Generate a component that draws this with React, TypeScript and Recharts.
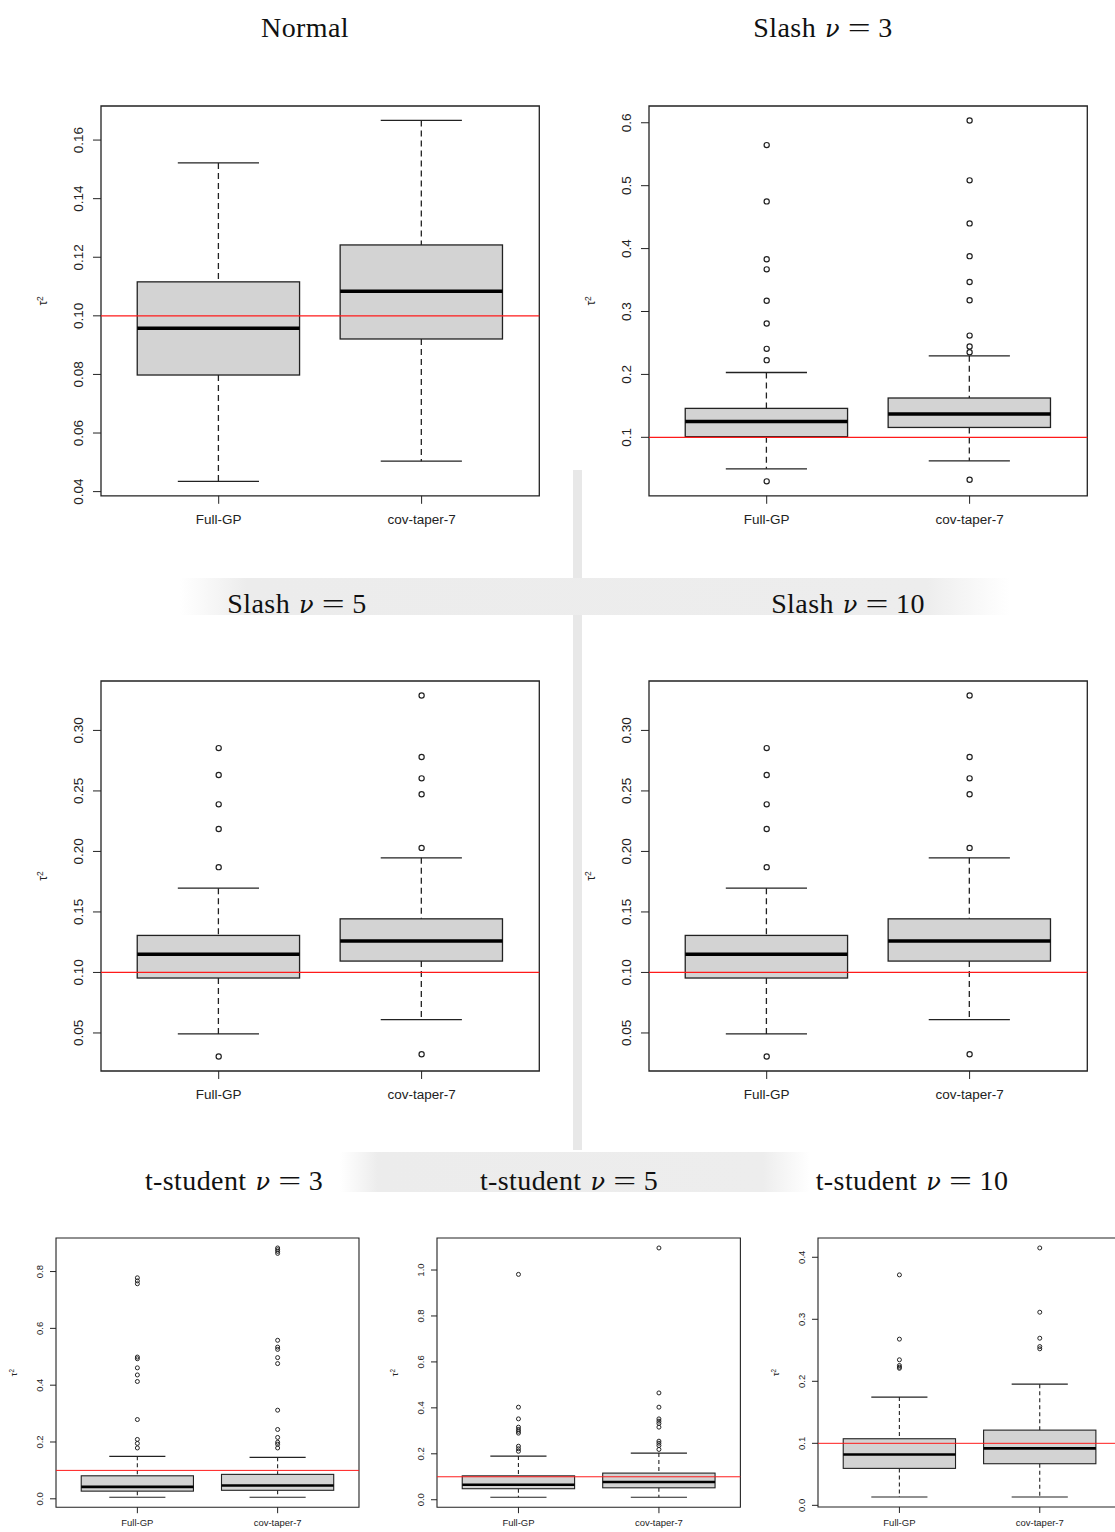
import { Bar, ComposedChart, ReferenceArea, ReferenceLine, Scatter, XAxis, YAxis } from 'recharts'

const GROUPS = ['Full-GP', 'cov-taper-7']

// per group: [lower whisker, Q1, median, Q3, upper whisker]
const NORMAL_BOX = [
  [0.0435, 0.0798, 0.0958, 0.1116, 0.1522],
  [0.0504, 0.0921, 0.1084, 0.1242, 0.1667],
]
const NORMAL_OUT: number[][] = [[], []]
const NORMAL_TICKS = [0.04, 0.06, 0.08, 0.1, 0.12, 0.14, 0.16]

const SLASH3_BOX = [
  [0.05, 0.101, 0.125, 0.146, 0.203],
  [0.0626, 0.1157, 0.137, 0.1625, 0.2295],
]
const SLASH3_OUT = [
  [0.5645, 0.475, 0.383, 0.367, 0.317, 0.281, 0.2406, 0.2227, 0.03],
  [0.6037, 0.5085, 0.44, 0.388, 0.347, 0.318, 0.2617, 0.2443, 0.2354, 0.0325],
]
const SLASH3_TICKS = [0.1, 0.2, 0.3, 0.4, 0.5, 0.6]

const SLASH5_BOX = [
  [0.0492, 0.0954, 0.115, 0.1306, 0.1696],
  [0.061, 0.1094, 0.1259, 0.1443, 0.1947],
]
const SLASH5_OUT = [
  [0.2854, 0.2631, 0.2389, 0.2186, 0.187, 0.0305],
  [0.3289, 0.278, 0.2604, 0.2472, 0.2029, 0.0324],
]
const SLASH5_TICKS = [0.05, 0.1, 0.15, 0.2, 0.25, 0.3]

const SLASH10_BOX = [
  [0.0492, 0.0954, 0.115, 0.1306, 0.1696],
  [0.061, 0.1094, 0.1259, 0.1443, 0.1947],
]
const SLASH10_OUT = [
  [0.2854, 0.2631, 0.2389, 0.2186, 0.187, 0.0305],
  [0.3289, 0.278, 0.2604, 0.2472, 0.2029, 0.0324],
]
const SLASH10_TICKS = [0.05, 0.1, 0.15, 0.2, 0.25, 0.3]

const T3_BOX = [
  [0.0056, 0.027, 0.042, 0.081, 0.1495],
  [0.0056, 0.03, 0.0467, 0.086, 0.146],
]
const T3_OUT = [
  [0.778, 0.767, 0.757, 0.499, 0.493, 0.461, 0.436, 0.413, 0.279, 0.209, 0.195, 0.179],
  [0.883, 0.877, 0.871, 0.864, 0.558, 0.534, 0.526, 0.497, 0.476, 0.312, 0.244, 0.216, 0.199, 0.192, 0.179],
]
const T3_TICKS = [0, 0.2, 0.4, 0.6, 0.8]

const T5_BOX = [
  [0.011, 0.048, 0.065, 0.104, 0.19],
  [0.011, 0.052, 0.077, 0.116, 0.203],
]
const T5_OUT = [
  [0.981, 0.403, 0.352, 0.316, 0.306, 0.298, 0.29, 0.233, 0.222, 0.211],
  [1.096, 0.465, 0.403, 0.352, 0.342, 0.332, 0.316, 0.255, 0.246, 0.236, 0.219],
]
const T5_TICKS = [0, 0.2, 0.4, 0.6, 0.8, 1.0]

const T10_BOX = [
  [0.0134, 0.0596, 0.0821, 0.1074, 0.1745],
  [0.0134, 0.0671, 0.0918, 0.1213, 0.1954],
]
const T10_OUT = [
  [0.3716, 0.268, 0.2347, 0.2255, 0.2228, 0.221],
  [0.415, 0.3114, 0.2695, 0.256, 0.2524],
]
const T10_TICKS = [0, 0.1, 0.2, 0.3, 0.4]

const TRUE_VALUE = 0.1
const X_DOMAIN = [0.42, 2.58]

const SANS = '"Liberation Sans", Arial, sans-serif'
const SERIF = '"Liberation Serif", "Times New Roman", serif'
const INK = '#222'

const LARGE = { axisW: 70, axisH: 40, font: 13.5, tick: 8, yMargin: 15, xMargin: 10.5, labOff: 58, labFont: 12, r: 2.6, sw: 1.2, median: 3.5, dash: '6 4', line: 1.3 }
const SMALL = { axisW: 52, axisH: 26, font: 9.5, tick: 6, yMargin: 10, xMargin: 6.5, labOff: 42, labFont: 9, r: 2, sw: 1, median: 2.6, dash: '4 3', line: 1.1 }
type Sizes = typeof LARGE

function BoxShape(props: any) {
  const { x, y, width, height, payload, s } = props as { x: number; y: number; width: number; height: number; payload: any; s: Sizes }
  const { lo, q1, med, q3, hi } = payload
  const top = Math.min(y, y + height)
  const h = Math.abs(height)
  const py = (v: number) => top + (h * (hi - v)) / (hi - lo)
  const cx = x + width / 2
  const cap = width / 4
  return (
    <g>
      <line x1={cx} x2={cx} y1={py(hi)} y2={py(q3)} stroke={INK} strokeWidth={s.line} strokeDasharray={s.dash} />
      <line x1={cx} x2={cx} y1={py(q1)} y2={py(lo)} stroke={INK} strokeWidth={s.line} strokeDasharray={s.dash} />
      <line x1={cx - cap} x2={cx + cap} y1={py(hi)} y2={py(hi)} stroke={INK} strokeWidth={s.line} />
      <line x1={cx - cap} x2={cx + cap} y1={py(lo)} y2={py(lo)} stroke={INK} strokeWidth={s.line} />
      <rect x={x} y={py(q3)} width={width} height={py(q1) - py(q3)} fill="#d3d3d3" stroke={INK} strokeWidth={s.line} />
      <line x1={x} x2={x + width} y1={py(med)} y2={py(med)} stroke="#000" strokeWidth={s.median} />
    </g>
  )
}

function RotTick({ x, y, payload, digits, s }: any) {
  return (
    <text
      x={x}
      y={y}
      transform={`rotate(-90 ${x} ${y})`}
      textAnchor="middle"
      dy="0.35em"
      fontSize={s.font}
      fontFamily={SANS}
      fill={INK}
    >
      {Number(payload.value).toFixed(digits)}
    </text>
  )
}

function TauLabel({ viewBox, s }: any) {
  const x = viewBox.x + viewBox.width - s.labOff
  const y = viewBox.y + viewBox.height / 2
  return (
    <text x={x} y={y} transform={`rotate(-90 ${x} ${y})`} textAnchor="middle" dy="0.35em" fontSize={s.labFont} fontFamily={SANS} fill={INK}>
      τ
      <tspan dy="-0.5em" fontSize="0.7em">
        2
      </tspan>
    </text>
  )
}

type PanelProps = {
  box: number[][]
  out: number[][]
  ticks: number[]
  digits: number
  plot: [number, number, number, number]
  small?: boolean
}

function Panel({ box, out, ticks, digits, plot, small }: PanelProps) {
  const s = small ? SMALL : LARGE
  const [l, t, r, b] = plot
  const plotW = r - l
  const plotH = b - t
  const unit = plotW / (X_DOMAIN[1] - X_DOMAIN[0])
  // R-style range: data extremes widened by 4%
  const all = box.flat().concat(out.flat())
  const lo = Math.min(...all)
  const hi = Math.max(...all)
  const pad = (hi - lo) * 0.04
  const yDomain = [lo - pad, hi + pad]
  const rows = box.map((v, i) => ({ x: i + 1, lo: v[0], q1: v[1], med: v[2], q3: v[3], hi: v[4] }))
  const points = out.flatMap((ys, i) => ys.map((y) => ({ x: i + 1, y })))
  const width = s.axisW + plotW + 4
  const height = 4 + plotH + s.axisH

  return (
    <div style={{ position: 'absolute', left: l - s.axisW, top: t - 4, width, height }}>
      <ComposedChart width={width} height={height} data={rows} margin={{ top: 4, right: 4, left: 0, bottom: 0 }}>
        <XAxis
          type="number"
          dataKey="x"
          domain={X_DOMAIN}
          allowDataOverflow
          ticks={[1, 2]}
          interval={0}
          tickFormatter={(v) => GROUPS[Number(v) - 1]}
          axisLine={false}
          tickSize={s.tick}
          tickMargin={s.xMargin}
          tickLine={{ stroke: INK }}
          height={s.axisH}
          tick={{ fill: INK, fontSize: s.font, fontFamily: SANS }}
        />
        <YAxis
          type="number"
          dataKey="y"
          domain={yDomain}
          allowDataOverflow
          ticks={ticks}
          interval={0}
          width={s.axisW}
          axisLine={false}
          tickSize={s.tick}
          tickMargin={s.yMargin}
          tickLine={{ stroke: INK }}
          tick={(p: any) => <RotTick {...p} digits={digits} s={s} />}
          label={(p: any) => <TauLabel viewBox={p.viewBox} s={s} />}
        />
        <ReferenceArea x1={X_DOMAIN[0]} x2={X_DOMAIN[1]} y1={yDomain[0]} y2={yDomain[1]} fill="none" stroke={INK} strokeWidth={s.line} />
        <Bar
          dataKey={(d: any) => [d.lo, d.hi]}
          barSize={unit * 0.8}
          shape={(p: any) => <BoxShape {...p} s={s} />}
          isAnimationActive={false}
        />
        <Scatter
          data={points}
          shape={(p: any) => <circle cx={p.cx} cy={p.cy} r={s.r} fill="none" stroke={INK} strokeWidth={s.sw} />}
          isAnimationActive={false}
        />
        <ReferenceLine y={TRUE_VALUE} stroke="#ff1a1a" strokeWidth={small ? 1 : 1.3} />
      </ComposedChart>
    </div>
  )
}

function Title({ x, y, name, nu }: { x: number; y: number; name: string; nu?: number }) {
  return (
    <div
      style={{
        position: 'absolute',
        left: x,
        top: y,
        transform: 'translate(-50%, -50%)',
        fontFamily: SERIF,
        fontSize: 28,
        lineHeight: 1,
        letterSpacing: 0.4,
        whiteSpace: 'nowrap',
        color: '#111',
      }}
    >
      {name}
      {nu !== undefined && (
        <>
          <i style={{ marginLeft: 9, fontFamily: '"DejaVu Serif", serif', fontSize: 24 }}>ν</i>
          <span style={{ display: 'inline-block', margin: '0 11px', transform: 'scaleX(1.45)' }}>=</span>
          <span>{nu}</span>
        </>
      )}
    </div>
  )
}

export default function App() {
  return (
    <div style={{ position: 'absolute', left: 0, top: 0, width: 1115, height: 1532, overflow: 'hidden', background: '#fff' }}>
      {/* faint page watermark behind the panels */}
      <svg width={1115} height={1532} style={{ position: 'absolute', left: 0, top: 0 }}>
        <defs>
          <linearGradient id="band" x1="0" x2="1" y1="0" y2="0">
            <stop offset="0" stopColor="#eeeeee" stopOpacity={0} />
            <stop offset="0.08" stopColor="#ececec" />
            <stop offset="0.9" stopColor="#ededed" />
            <stop offset="1" stopColor="#eeeeee" stopOpacity={0} />
          </linearGradient>
        </defs>
        <rect x={573} y={470} width={9} height={680} fill="#e8e8e8" />
        <rect x={180} y={578} width={830} height={37} fill="url(#band)" />
        <rect x={340} y={1152} width={470} height={40} fill="url(#band)" />
      </svg>

      <Title x={305} y={28} name="Normal" />
      <Title x={823} y={28} name="Slash" nu={3} />
      <Title x={297} y={604} name="Slash" nu={5} />
      <Title x={848} y={604} name="Slash" nu={10} />
      <Title x={234} y={1181} name="t-student" nu={3} />
      <Title x={569} y={1181} name="t-student" nu={5} />
      <Title x={912} y={1181} name="t-student" nu={10} />

      <Panel box={NORMAL_BOX} out={NORMAL_OUT} ticks={NORMAL_TICKS} digits={2} plot={[100.7, 105.5, 539, 495.3]} />
      <Panel box={SLASH3_BOX} out={SLASH3_OUT} ticks={SLASH3_TICKS} digits={1} plot={[648.7, 105.5, 1087, 495.3]} />
      <Panel box={SLASH5_BOX} out={SLASH5_OUT} ticks={SLASH5_TICKS} digits={2} plot={[100.7, 681.3, 539, 1071.3]} />
      <Panel box={SLASH10_BOX} out={SLASH10_OUT} ticks={SLASH10_TICKS} digits={2} plot={[648.7, 681.3, 1087, 1071.3]} />
      <Panel box={T3_BOX} out={T3_OUT} ticks={T3_TICKS} digits={1} plot={[56, 1237.5, 359, 1506.7]} small />
      <Panel box={T5_BOX} out={T5_OUT} ticks={T5_TICKS} digits={1} plot={[437.3, 1237.5, 740.7, 1506.7]} small />
      <Panel box={T10_BOX} out={T10_OUT} ticks={T10_TICKS} digits={1} plot={[818.3, 1237.5, 1121.5, 1506.5]} small />
    </div>
  )
}
